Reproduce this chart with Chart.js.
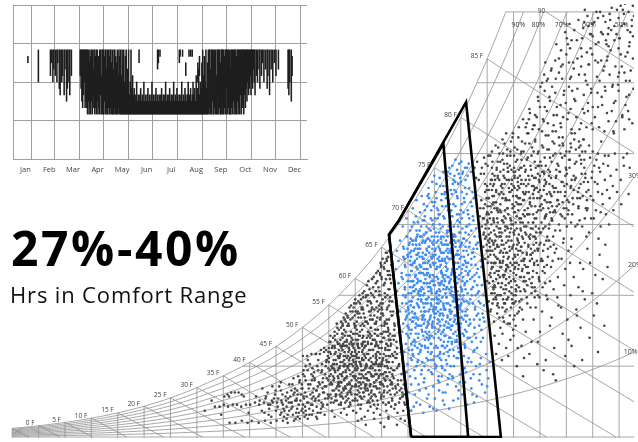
<!DOCTYPE html>
<html>
<head>
<meta charset="utf-8">
<script src="https://cdn.jsdelivr.net/npm/chart.js@4.4.1/dist/chart.umd.min.js"></script>
<style>
html,body{margin:0;padding:0;background:#fff;}
body{width:638px;height:442px;position:relative;overflow:hidden;font-family:"Open Sans",sans-serif;}
#psy{position:absolute;left:0;top:0;}
#year{position:absolute;left:0;top:0;}
.big{position:absolute;left:11px;top:224px;font-size:48px;font-weight:700;line-height:48px;letter-spacing:2.6px;color:#000;white-space:nowrap;}
.sub{position:absolute;left:10px;top:283px;font-size:22px;line-height:22px;letter-spacing:0.85px;color:#111;white-space:nowrap;}
</style>
</head>
<body>
<canvas id="psy" width="638" height="442"></canvas>
<canvas id="year" width="320" height="180"></canvas>
<div class="big">27%-40%</div>
<div class="sub">Hrs in Comfort Range</div>
<script>
// ---------- psychrometric grid values ----------
const dryBulbLines = [-5,0,5,10,15,20,25,30,35,40,45,50,55,60,65,70,75,80,85,90,95,100,105,110];
const humidityLines = [0,35,70,105,140,175];          // grains of moisture per lb dry air
const wetBulbLines = [-5,0,5,10,15,20,25,30,35,40,45,50,55,60,65,70,75,80,85,90];
const wetBulbLabels = [0,5,10,15,20,25,30,35,40,45,50,55,60,65,70,75,80,85];
const rhLines = [10,20,30,40,50,60,70,80,90];
const rhTopLabels = [90,80,70,60,50];
const rhSideLabels = [30,20,10];
const TOP_GRAINS = 210;

// ---------- comfort zones (dry bulb F, grains) ----------
const comfortZoneWide = [[70.6,0],[66.4,100],[68.3,107],[81.0,165.4],[87.6,0],[70.6,0]];
const comfortZoneNarrow = [[70.6,0],[66.4,100],[68.3,107],[76.7,145],[81.4,0],[70.6,0]];

// ---------- hourly conditions outside the comfort zone (dry bulb F, grains) ----------
const outsideHours = [
[33.4,15],[34.3,15],[35.1,16],[35.9,15],[36.8,16],[37.6,16],[38.4,15],[39.3,16],[40.1,16],[41.0,17],[41.8,16],[42.7,17],[43.5,16],[44.4,17],[45.2,17],[46.1,17],[46.9,18],[47.8,17],[48.6,18],
[36.2,7],[37.3,7],[38.5,8],[39.6,7],[40.4,8],[41.7,7],[42.9,8],[44.0,7],[45.1,8],[46.3,8],[47.2,7],[48.4,8],[49.5,9],
[35.2,20],[35.8,21],[36.5,22],[37.2,22],[37.9,22],[38.5,21],[38.9,20],[36.1,20],
[31.5,13],[32.8,18],[34.6,11],[39.8,12],[41.2,20],[43.6,11],[44.8,21],[46.6,13],[47.9,23],[45.6,25],[49.3,12],[50.4,10],[42.4,24],
[48.3,29],[49.2,30],[50.1,31],[51.0,33],[51.9,34],[52.8,35],[53.7,36],[54.6,38],
[50.1,40],[50.9,40],[51.7,41],[52.5,41],[53.3,41],[54.1,42],
[55.0,44],[56.1,44],[57.2,45],[58.3,45],[59.4,46],[60.5,46],
[57.3,54],[57.6,56],[58.0,58],[58.5,60],[59.1,62],[58.9,64],[59.8,66],[60.6,67],[61.5,69],
[44.1,10],[45.8,11],[47.0,9],[48.2,11],[49.1,10],[50.2,12],[51.0,9],[51.8,11],[52.6,10],[53.4,12],[50.7,11],[48.8,12],
[42.3,13],[43.7,14],[45.0,13],[46.4,14],[47.5,13],[48.1,15],[49.0,14],[49.8,13],[50.5,15],[51.3,14],[52.0,13],[52.7,15],[53.5,14],[51.6,16],[50.1,16],[47.0,15],
[41.9,18],[43.0,19],[44.2,18],[45.4,19],[46.0,18],[47.3,19],[48.0,17],[48.9,19],[49.6,18],[50.3,19],[51.1,17],[51.8,19],[52.4,18],[53.0,20],[53.6,17],[52.1,20],[50.8,20],
[43.4,22],[44.9,23],[46.2,21],[47.1,22],[48.3,21],[49.0,23],[49.7,21],[50.5,22],[51.2,24],[51.9,22],[52.6,23],[53.2,21],[53.8,24],[50.0,24],[48.6,24],[52.9,25],
[45.9,27],[47.5,26],[49.4,27],[50.6,28],[51.5,26],[52.3,28],[53.1,27],[53.9,29],[52.0,30],[49.9,26],
[50.2,33],[51.4,36],[52.2,32],[53.0,38],[53.7,33],[52.6,41],[51.0,38],[53.5,43],[50.6,35],
[54.2,11],[55.6,13],[56.1,10],[57.3,12],[57.9,14],[58.4,11],[59.6,13],[60.2,12],[61.0,14],[61.8,10],[62.4,13],[63.5,12],[64.1,14],[64.7,11],[65.9,13],[66.3,10],[67.4,14],[68.0,12],[69.1,13],[58.8,15],[62.9,15],[66.8,15],
[53.9,16],[54.8,19],[55.4,17],[56.5,18],[56.9,16],[57.7,19],[58.2,20],[59.0,17],[59.5,18],[60.6,16],[61.2,19],[61.7,20],[62.7,17],[63.3,18],[64.3,16],[64.9,19],[65.4,20],[66.4,17],[67.0,18],[67.6,16],[68.5,19],[69.3,17],[55.0,20],[57.2,20],[60.0,19],[63.1,20],[65.8,16],[68.9,20],
[54.1,22],[54.5,25],[55.3,21],[56.0,23],[56.6,25],[57.1,21],[57.7,24],[58.6,22],[59.0,23],[59.9,25],[60.4,21],[61.1,24],[61.5,22],[62.4,23],[62.8,25],[63.7,21],[64.2,24],[64.6,22],[65.5,23],[66.1,25],[66.7,21],[67.1,24],[67.9,22],[68.4,23],[69.2,21],[56.3,21],[58.1,25],[60.8,22],[63.9,25],[65.0,21],[67.6,25],[61.9,25],
[53.8,27],[54.6,29],[55.2,26],[55.9,28],[56.7,30],[57.0,27],[58.0,29],[58.5,26],[59.3,28],[59.8,30],[60.6,27],[61.1,29],[61.9,26],[62.3,28],[63.2,30],[63.6,27],[64.4,29],[64.8,26],[65.7,28],[66.1,30],[66.9,27],[67.3,29],[68.1,26],[68.7,28],[56.8,26],[58.4,30],[60.1,26],[62.9,26],[64.5,30],[67.0,26],[55.1,30],[61.5,30],
[54.3,31],[54.9,34],[55.5,35],[56.2,32],[57.0,34],[57.4,31],[58.2,33],[58.7,35],[59.5,32],[60.0,34],[60.8,31],[61.2,33],[62.0,35],[62.4,32],[63.3,34],[63.8,31],[64.5,33],[64.9,35],[65.8,32],[66.2,34],[67.0,31],[67.4,33],[68.2,35],[68.8,31],[55.4,31],[57.8,35],[60.3,35],[63.0,31],[65.3,31],[67.9,34],[59.1,31],[62.2,35],
[54.5,37],[55.0,39],[55.8,36],[56.3,38],[57.1,40],[57.6,37],[58.4,39],[58.9,36],[59.6,38],[60.2,40],[60.9,37],[61.3,39],[62.1,36],[62.6,38],[63.4,40],[63.9,37],[64.6,39],[65.1,36],[65.9,38],[66.3,40],[67.1,37],[67.6,39],[68.3,36],[56.0,36],[58.6,40],[61.0,36],[63.6,36],[66.0,37],[54.8,40],[67.2,40],
[54.9,42],[55.6,44],[56.1,41],[56.9,43],[57.5,45],[58.0,42],[58.8,44],[59.2,41],[60.0,43],[60.5,45],[61.3,42],[61.7,44],[62.5,41],[62.9,43],[63.8,45],[64.2,42],[65.0,44],[65.4,41],[66.2,43],[66.7,45],[67.5,42],[67.9,44],[57.2,41],[59.5,45],[62.0,45],[64.7,41],[67.0,41],[55.7,45],[60.3,41],[65.7,44],
[55.3,47],[55.8,49],[56.7,46],[57.2,48],[58.0,50],[58.4,47],[59.3,49],[59.7,46],[60.5,48],[60.9,50],[61.8,47],[62.2,49],[63.0,46],[63.4,48],[64.2,50],[64.7,47],[65.5,49],[65.9,46],[66.7,48],[67.1,50],[67.8,47],[56.1,50],[58.9,46],[61.4,46],[64.0,46],[66.3,50],[60.7,50],[63.1,50],
[56.1,52],[56.6,54],[57.5,51],[57.9,53],[58.8,55],[59.2,52],[60.0,54],[60.4,51],[61.3,53],[61.7,55],[62.5,52],[62.9,54],[63.7,51],[64.2,53],[65.0,55],[65.4,52],[66.2,54],[66.6,51],[67.4,53],[57.6,55],[60.1,55],[62.8,51],[65.1,51],[67.5,55],
[57.3,57],[57.8,59],[58.7,56],[59.1,58],[59.9,60],[60.3,57],[61.1,59],[61.6,61],[62.4,56],[62.8,58],[63.6,60],[64.0,57],[64.8,59],[65.2,61],[66.0,56],[66.4,58],[67.0,60],[60.1,62],[62.6,62],[64.3,62],[66.7,62],[58.2,61],[61.4,56],[63.9,56],
[59.7,64],[60.2,66],[61.1,68],[61.5,63],[62.3,65],[62.8,67],[63.6,69],[64.0,64],[64.8,66],[65.2,68],[66.0,63],[66.4,65],[67.0,67],[63.1,63],[64.5,70],[66.1,70],[60.8,70],[62.4,70],[65.0,64],[66.6,69],
[61.7,72],[62.2,75],[63.0,71],[63.4,74],[64.2,77],[64.6,72],[65.4,75],[65.8,78],[66.5,73],[66.8,76],[63.2,78],[64.7,80],[65.6,71],[66.2,80],[62.1,70],[63.9,72],[65.0,79],[66.6,78],
[64.3,82],[64.9,85],[65.5,83],[66.0,87],[66.4,82],[65.2,88],[65.8,91],[66.2,89],[64.7,81],[65.6,86],[66.5,92],[64.9,84],
[60.5,8],[62.0,6],[63.6,9],[64.8,7],[66.3,9],[67.9,6],[69.4,8],[65.5,5],[61.2,9],[68.6,9],
[54.3,19],[55.7,23],[54.9,28],[55.2,33],[54.6,38],[55.9,17],[54.1,44],[55.4,41],[54.8,21],[55.1,47],[55.8,30],[54.4,35],[55.6,26],[54.7,16],[55.3,50],[54.2,25],[55.0,37],[55.5,19],[54.5,43],[55.9,34],
[56.2,18],[57.4,22],[56.8,27],[57.1,31],[56.5,36],[57.8,40],[56.1,45],[57.6,49],[56.9,53],[57.3,16],[56.4,24],[57.9,28],[56.7,33],[57.2,37],[56.3,42],[57.7,46],[56.6,51],[57.5,20],[56.0,29],[57.0,25],[56.8,39],[57.4,44],[56.2,48],[57.9,35],[56.5,56],[57.6,55],
[58.1,17],[59.3,21],[58.6,26],[59.7,30],[58.4,35],[59.0,39],[58.9,43],[59.5,48],[58.2,52],[59.8,56],[58.7,19],[59.2,24],[58.3,29],[59.9,33],[58.8,38],[59.4,42],[58.0,47],[59.6,51],[58.5,55],[59.1,16],[58.9,27],[59.3,36],[58.4,45],[59.8,40],[58.6,59],[59.5,62],[58.2,24],[59.9,18],
[60.4,18],[61.6,22],[60.9,27],[61.2,31],[60.1,36],[61.8,40],[60.6,44],[61.4,49],[60.3,53],[61.9,57],[60.8,61],[61.1,16],[60.2,25],[61.7,29],[60.5,34],[61.3,38],[60.7,42],[61.5,47],[60.0,51],[61.0,55],[60.9,20],[61.6,33],[60.4,46],[61.2,64],[60.6,59],[61.8,24],[60.1,30],[61.4,43],
[62.3,17],[63.5,21],[62.8,26],[63.1,30],[62.1,35],[63.9,39],[62.6,43],[63.3,48],[62.4,52],[63.7,56],[62.9,60],[63.2,64],[62.0,23],[63.6,27],[62.7,32],[63.4,36],[62.2,41],[63.8,45],[62.5,50],[63.0,54],[62.9,19],[63.3,58],[62.4,67],[63.8,33],[62.6,38],[63.1,46],[62.0,29],[63.6,16],
[64.2,18],[65.4,22],[64.7,27],[65.1,31],[64.0,36],[65.8,40],[64.5,44],[65.3,49],[64.3,53],[65.6,57],[64.9,61],[65.2,66],[64.1,24],[65.7,28],[64.6,33],[65.0,37],[64.4,42],[65.9,46],[64.8,51],[65.5,55],[64.2,59],[65.3,17],[64.9,20],[65.6,35],[64.0,47],[65.1,63],[64.7,70],[65.8,52],
[66.3,17],[67.5,21],[66.7,26],[67.1,30],[66.0,35],[67.8,39],[66.5,43],[67.3,48],[66.2,52],[67.4,56],[66.9,60],[66.1,64],[67.0,19],[67.7,24],[66.6,28],[67.2,33],[66.4,37],[67.9,41],[66.8,46],[67.5,50],[66.0,58],[67.2,62],[66.5,23],[67.6,16],
[68.3,17],[69.0,20],[68.7,24],[69.4,16],[68.1,28],[68.9,22],[68.5,19],[69.2,26],
[56.4,21],[57.3,27],[58.2,32],[59.1,22],[60.2,28],[61.1,35],[62.3,24],[63.2,30],[64.1,38],[65.2,26],[57.9,38],[58.8,44],[59.9,29],[60.8,37],[61.9,45],[62.8,34],[63.9,41],[64.8,31],[65.7,43],[56.9,34],[57.6,43],[58.5,21],[59.6,35],[60.5,23],[61.5,27],[62.4,47],[63.5,25],[64.4,35],[65.4,29],[66.2,45],[57.0,46],[58.0,36],[59.0,50],[60.0,42],[61.0,20],[62.0,39],[63.0,22],[64.0,28],[65.0,47],[66.5,32],[57.5,30],[58.4,48],[59.4,25],[60.3,39],[61.3,45],[62.2,29],[63.1,37],[64.3,45],[65.3,39],[56.7,40],[58.6,34],[59.7,44],[60.7,25],[61.6,41],[62.6,21],[63.7,48],[64.6,24],[65.6,32],[57.8,23],[60.1,48],
[55.4,27],[58.7,42],[61.3,19],[63.8,53],[57.1,35],[60.4,61],[65.2,38],[62.6,28],[59.2,47],[56.3,20],[64.5,65],[61.9,34],[58.0,24],[66.4,48],[60.8,44],[63.1,23],[57.6,51],[55.9,38],[62.2,57],[59.6,30],[64.9,27],[61.5,50],[58.4,18],[66.8,34],[63.4,43],[56.8,29],[60.1,37],[65.6,56],[62.9,39],[57.9,45],[59.9,55],[64.1,31],[61.1,26],[55.2,42],[63.6,63],[58.9,33],[66.1,22],[60.6,29],[62.4,46],[57.3,17],[65.0,44],[59.4,40],[61.8,59],[56.1,33],[64.3,50],[60.0,21],[62.0,31],[58.2,57],[66.6,40],[63.0,35],[57.0,39],[65.4,25],[59.0,26],[61.6,38],[64.7,58],[56.6,47],[62.8,49],[60.3,33],[58.6,50],[63.9,20],[55.6,34],[65.9,30],[61.2,46],[59.7,37],[62.5,18],[57.4,27],[64.0,40],[60.9,52],[58.1,40],[66.3,53],[63.2,58],[56.9,23],[61.4,64],[59.5,59],[64.6,36],[62.1,26],[57.7,32],[65.3,60],[60.7,39],[63.5,30],
[59.2,65],[60.0,68],[60.9,66],[61.4,71],[62.0,69],[62.7,73],[63.3,70],[63.9,76],[64.4,74],[65.0,78],[65.6,76],[66.1,82],[66.6,80],[64.8,86],[65.4,84],[66.0,91],[63.5,79],[62.5,77],[61.2,63],[62.9,62],[64.1,67],[65.7,69],[66.3,73],[66.8,85],[60.5,62],[63.0,66],[64.6,63],[65.9,88],[64.0,81],[66.5,67],
[42.8,12],[43.9,16],[44.6,19],[45.3,15],[46.0,12],[46.8,20],[47.4,17],[47.9,14],[48.5,22],[48.9,18],[49.3,16],[49.8,24],[50.2,20],[50.6,13],[51.1,26],[51.5,21],[51.9,16],[52.3,29],[52.7,23],[53.1,18],[53.6,32],[53.9,22],[50.9,17],[49.5,28],[48.1,26],[51.7,31],[52.9,12],[53.3,26],[52.1,24],[50.4,30],[47.2,11],[45.9,23],[44.3,25],[43.1,20],[46.5,10],[48.7,9],[51.3,11],[53.8,15],[52.5,19],[50.0,14],[49.1,21],[47.7,20],[46.3,16],[53.0,33],[51.8,28],[52.8,9],
[84.0,104],[84.6,98],[85.1,106],[85.7,101],[86.2,96],[86.8,104],[87.3,99],[87.9,107],[88.4,102],[89.0,97],[89.6,105],[90.1,100],[90.7,95],[91.3,103],[91.8,98],[85.4,96],[86.5,100],[88.1,95],[89.3,101],[90.4,106],[84.3,100],[87.0,106],
[84.6,88],[85.2,92],[85.8,86],[86.3,90],[86.9,94],[87.4,87],[88.0,91],[88.6,85],[89.1,89],[89.7,93],[90.2,86],[90.8,90],[91.4,94],[91.9,87],[92.5,91],[85.5,94],[87.7,95],[89.4,86],[90.5,93],[92.1,85],
[85.0,77],[85.6,81],[86.1,84],[86.7,78],[87.2,82],[87.8,76],[88.3,80],[88.9,84],[89.5,77],[90.0,81],[90.6,75],[91.2,79],[91.7,83],[92.3,77],[86.4,75],[88.6,83],[90.3,84],[92.8,81],
[85.3,67],[85.9,71],[86.5,74],[87.0,66],[87.6,70],[88.1,73],[88.7,68],[89.2,72],[89.8,66],[90.4,70],[91.0,74],[91.5,68],[86.2,68],[88.4,66],
[85.6,62],[86.3,57],[86.9,61],[87.5,54],[88.0,59],[88.7,63],[89.3,56],[86.4,50],[87.2,46],[87.9,51],[88.6,44],[89.4,48],[86.7,41],[87.8,38],[90.2,60],[89.9,53],
[84.4,101],[84.9,95],[85.2,89],[85.8,83],[86.1,77],[86.4,71],[86.9,65],[87.3,59],[84.7,105],[85.5,98],[86.0,92],[86.6,86],[87.1,80],[87.6,74],[88.0,68],[88.4,62],[88.9,56],[85.3,103],[85.9,97],[86.5,93],[87.0,88],[87.5,84],[88.1,79],[88.6,73],[89.0,69],[89.5,64],[90.0,58],[86.3,106],[86.8,99],[87.4,91],[88.0,87],[88.5,82],[89.1,76],[89.6,71],[90.1,66],[90.7,61],[87.2,103],[87.8,97],[88.3,93],[88.9,88],[89.4,82],[90.0,78],[90.5,72],[91.1,67],[91.6,63],[88.7,104],[89.2,99],[89.8,94],[90.3,89],[90.9,83],[91.4,79],[92.0,73],[92.5,69],[90.2,102],[90.8,97],[91.3,92],[91.9,88],[92.4,84],[93.0,78],[93.5,74],[91.7,106],[92.2,101],[92.8,95],[93.3,90],[93.9,86],[94.4,81],[94.9,77],[93.6,103],[94.2,98],[94.7,93],[95.3,88],[85.1,86],[85.7,79],[86.2,73],[86.7,68],[87.9,64],[88.2,57],[85.6,90],[86.9,95],[87.7,101],[89.9,105],[91.0,100],[88.8,91],[90.6,86],[92.6,81],[94.0,92],[95.0,101],[89.3,60],[90.4,55],[91.8,58],[93.2,64],[94.6,70],[86.0,66],[87.3,70],[88.6,78],[90.2,83],[91.5,87],[92.9,99],
[85.7,63],[88.3,71],[86.9,88],[91.2,64],[89.6,97],[93.7,82],[87.4,112],[90.8,126],[85.2,118],[92.5,137],[95.1,96],[96.8,121],[94.3,108],[88.9,133],[86.3,102],[91.7,91],[97.4,87],[93.1,118],[89.2,79],[86.6,69],[95.7,131],[92.0,104],[87.8,125],[90.4,73],[94.9,69],[84.8,99],[88.0,140],[96.2,110],[91.4,115],[89.9,88],[85.9,84],[93.9,128],[87.1,76],[92.8,94],[90.1,139],[86.0,130],[95.5,82],[97.9,102],[84.4,108],[89.4,121],[91.9,77],[94.6,134],[88.6,96],[86.7,122],[93.4,71],[90.6,103],[87.6,92],[95.9,117],[92.3,127],[85.4,76],[97.1,128],[89.0,110],[91.0,85],[94.0,99],[87.0,136],[96.5,93],[88.2,66],[93.0,110],[90.0,95],[85.6,92],[92.7,84],[94.7,121],[86.4,113],[98.2,114],[91.5,133],[89.7,68],[87.3,101],[95.3,106],[93.6,91],[90.9,118],[88.8,85],[86.2,95],[96.0,76],[92.2,72],[94.4,87],[87.9,118],[90.3,131],[85.3,110],[97.6,95],[89.1,127],[91.6,99],[93.3,103],[95.8,124],[88.4,104],[86.8,82],[92.9,121],[90.5,80],[94.1,114],[87.5,131],[96.7,103],[84.9,122],[89.8,113],[91.3,72],[93.8,95],[88.1,89],[86.1,74],[95.0,129],[92.6,110],[90.2,123],[87.7,84],[94.8,78],[89.3,92],[91.1,108],[96.3,85],[85.8,105],[93.2,134],[88.7,117],[86.5,127],[92.1,88],[90.7,98],[94.2,104],[97.2,119],[89.5,103],[87.2,94],[91.8,121],[95.6,113],[85.1,114],[93.5,124],[90.0,70],[88.5,75],[86.9,108],[92.4,100],[94.5,93],[96.9,111],[91.2,129],[89.0,84],[87.4,86],[93.1,87],[95.2,101],[90.3,111],[88.1,129],[86.3,119],[92.0,117],[94.9,126],[98.0,123],[91.5,94],[89.6,132],[87.8,107],[96.1,134],[93.7,106],
[84.9,92],[86.4,81],[85.5,108],[87.2,64],[88.7,99],[90.3,77],[86.7,116],[89.3,134],[91.8,110],[93.5,88],[95.3,119],[85.2,97],[87.9,86],[90.9,92],[92.6,75],[86.1,124],[88.4,112],[94.2,133],[96.4,99],[89.6,74],[91.2,118],[85.8,71],[87.5,103],[93.0,127],[95.9,108],[88.0,80],[90.6,109],[92.1,96],[86.6,89],[84.6,115],[89.1,123],[94.6,85],[87.0,128],[91.6,82],[96.8,116],[85.4,80],[88.9,103],[90.1,114],[93.8,118],[86.9,70],[92.8,106],[95.6,92],[88.2,135],[84.3,94],[90.8,128],[87.7,121],[91.4,102],[94.0,74],[86.2,107],[89.8,85],[92.3,132],[97.0,94],[85.9,133],[88.6,91],[93.2,100],[90.4,67],[87.1,111],[95.1,136],[91.9,125],[86.5,97],[89.4,108],[94.4,111],[84.7,103],[92.5,90],[88.3,125],[90.0,101],[96.2,126],[87.4,79],[93.6,79],[85.6,125],[91.0,96],[89.9,119],[86.0,115],[94.8,103],[88.8,68],[92.7,113],[87.6,99],[90.7,122],[95.5,87],[85.0,111],[91.5,137],[89.2,94],[93.9,122],[86.8,132],[97.5,111],[88.5,118],[90.2,90],[92.0,79],[94.3,96],[87.3,120],[85.3,100],[91.3,106],[96.0,104],[89.7,127],[93.3,93],[86.3,86],[88.1,106],[90.5,116],[95.0,114],[92.2,120],
[98.4,121],[99.7,108],[100.6,133],[101.3,115],[102.4,146],[103.3,126],[98.9,140],[100.1,125],[101.7,104],[102.8,137],[99.3,116],[100.9,143],[103.7,113],[98.1,132],[101.0,127],[102.1,118],[99.8,129],[103.0,141],[100.4,112],[98.6,105],
[92.4,104],[93.1,98],[93.7,106],[94.3,101],[94.9,95],[95.6,103],[96.2,97],[96.8,105],[97.5,99],[98.1,93],[98.8,102],[99.4,96],[100.1,104],[93.2,90],[93.9,85],[94.6,92],[95.2,87],[95.9,81],[96.5,89],[97.1,84],[97.8,91],[98.4,79],[99.1,88],[99.8,83],[93.4,76],[94.1,72],[94.8,79],[95.5,74],[96.2,70],[96.9,77],[97.6,73],[98.3,69],[100.4,92],[101.0,98],[92.9,81],[94.0,69],[95.8,95],[97.3,107],[99.6,75],[100.7,86],
[89.0,40],[90.6,35],[91.5,45],[92.3,52],[93.0,41],[93.8,58],[94.6,47],[95.4,62],[96.1,38],[96.9,55],[97.7,44],[98.5,65],[99.3,51],[100.2,58],[101.0,45],[101.9,63],[102.7,54],[103.5,68],[104.4,49],[105.2,60],[106.0,42],[91.0,62],[92.6,66],[94.2,64],[99.8,40],[103.0,38],[104.9,71],[107.2,55],[91.8,30],[95.7,33],[98.0,28],[100.8,70],[102.3,74],[96.4,68],[90.0,50],[101.5,35],
[96.7,97],[98.5,88],[100.9,94],[102.6,86],[104.0,93],[101.4,79],[103.1,72],[99.0,64],[97.2,59],[95.0,52],[93.4,47],[92.0,39],[90.8,44],[94.5,36],[97.5,31],[100.4,48],[102.0,60],[105.8,66],[106.9,78],[107.8,84],[95.8,84],[99.5,98],[103.8,99],[106.1,98],[93.7,99],
[104.5,86],[106.3,90],[105.5,80],[107.4,95],[103.2,83],
[83.6,109],[84.3,113],[84.9,110],[85.6,114],[86.2,108],[86.9,112],[87.5,115],[88.2,109],[88.8,113],[89.5,107],[90.1,111],[90.8,115],[91.4,108],[92.1,112],[92.7,110],[93.4,114],[94.0,108],[94.7,112],[95.3,115],[96.0,109],[96.6,113],[97.3,107],[97.9,111],[98.6,115],[99.2,109],[100.0,113],[101.1,110],[102.3,114],[103.5,108],[85.0,107],
[83.9,117],[84.6,121],[85.3,118],[85.9,122],[86.6,116],[87.2,120],[87.9,123],[88.5,117],[89.2,121],[89.8,115],[90.5,119],[91.1,123],[91.8,117],[92.4,121],[93.1,116],[93.7,120],[94.4,123],[95.0,118],[95.7,122],[96.3,116],[97.0,120],[97.6,123],[98.3,117],[98.9,121],[99.7,119],[100.5,116],[101.4,122],[102.6,118],[103.8,121],[86.0,119],
[85.0,124],[85.7,127],[86.3,125],[87.0,129],[87.6,124],[88.3,128],[88.9,131],[89.6,125],[90.2,129],[90.9,124],[91.5,127],[92.2,131],[92.8,125],[93.5,129],[94.1,123],[94.8,127],[95.4,131],[96.1,125],[96.7,129],[97.4,124],[98.0,128],[98.7,131],[99.3,126],[100.1,130],[100.9,124],[101.8,128],[102.7,125],[103.6,130],[90.0,131],[94.6,130],
[86.8,133],[87.5,136],[88.1,132],[88.8,135],[89.4,139],[90.1,133],[90.7,137],[91.4,140],[92.0,134],[92.7,138],[93.3,132],[94.0,136],[94.6,140],[95.3,134],[95.9,138],[96.6,132],[97.2,136],[97.9,140],[98.5,134],[99.2,138],[99.9,133],[100.7,137],[101.6,135],[102.5,139],[103.4,133],[91.0,132],
[88.8,142],[89.5,146],[90.2,143],[90.9,148],[91.5,141],[92.2,145],[92.8,150],[93.5,143],[94.1,147],[94.8,152],[95.4,144],[96.1,149],[96.7,142],[97.4,146],[98.0,151],[98.7,144],[99.3,148],[100.0,141],[100.8,145],[101.6,150],[102.4,143],[103.3,147],[89.9,150],[93.8,141],
[84.2,108],[86.7,121],[85.1,134],[88.9,113],[87.3,127],[90.6,119],[89.4,141],[92.1,109],[91.3,133],[93.8,124],[95.2,112],[94.1,146],[96.9,131],[98.4,117],[97.2,108],[99.7,139],[100.8,123],[102.3,113],[101.5,147],[103.6,128],[85.8,111],[84.6,125],[87.9,137],[86.2,116],[89.7,122],[88.5,108],[91.9,141],[90.2,128],[93.1,115],[92.6,150],[94.8,134],[96.3,120],[95.6,143],[97.8,112],[99.1,126],[98.6,148],[100.3,110],[101.9,136],[103.1,119],[102.7,144],[84.9,118],[86.4,129],[85.6,139],[88.1,120],[87.6,111],[89.0,131],[90.9,112],[92.4,124],[91.6,146],[94.5,118],[93.4,139],[95.9,127],[97.5,139],[96.6,149],[98.9,110],[100.0,132],[101.2,118],[99.4,144],[102.9,130],[103.9,112],[83.7,113],[85.3,122],[86.9,113],[88.7,127],[90.4,136],[89.2,117],[92.8,129],[91.1,115],[94.2,128],[95.4,151],[97.0,116],[98.1,129],[96.1,109],[99.8,121],[101.6,127],[100.6,141],[102.2,121],[103.4,137],[84.4,130],[86.0,136],[87.1,143],[88.3,145],[89.8,148],[90.7,142],[92.0,120],[93.7,110],[95.0,122],[96.8,125],[98.3,135],[99.5,113],[101.0,150],[102.5,107],[103.2,147],[97.7,145],[94.7,141],[91.4,125],[85.9,127],[88.8,139],[90.0,124],[93.0,145],
[104.2,122],[104.8,128],[105.3,134],[105.9,125],[106.4,131],[104.5,138],[105.1,117],[106.0,140],[106.8,120],[107.3,127],[104.0,113],[104.7,108],[105.6,112],[106.5,104],[107.5,110],[108.2,118],[108.8,124],[109.5,132],[110.4,115],[104.3,101],[103.0,104],[102.1,105],[100.9,106],[107.0,135],[108.0,139],
[104.6,119],[105.4,126],[106.2,133],[105.0,141],[106.9,115],[107.7,122],[104.9,131],[106.0,121],[107.3,139],[108.4,129],[104.3,144],[105.7,137],[106.6,146],[107.9,134],[108.9,112],[109.6,121],[110.3,127],[108.1,105],[109.2,140],[110.9,134],[111.8,120],[105.2,108],[106.5,111],[104.1,126],[103.6,141],[102.8,135],[101.4,129],[100.5,137],[99.6,124],[98.8,131],[97.7,121],[96.9,138],[95.8,130],[97.3,114],[100.2,117],[102.4,123],[103.9,117],[101.8,142],[99.3,145],[96.4,142],
[110.8,138],[112.0,133],[111.5,140],
[82.6,133],[83.1,136],[83.8,130],[84.4,138],[83.4,127],[84.0,133],[82.9,128],[85.2,139],[85.9,141],[86.6,144],[87.3,140],[87.9,147],[84.7,135],[88.6,150],
[91.0,153],[91.8,157],[92.5,155],[93.1,160],[93.8,154],[94.4,158],[95.0,163],[95.7,156],[96.3,161],[96.9,166],[97.6,154],[98.2,159],[98.9,164],[99.5,169],[100.2,157],[100.8,162],[101.5,167],[102.1,172],[102.8,155],[103.4,160],[104.1,165],[104.7,170],[105.4,158],[106.0,163],[106.7,168],[107.3,173],[108.0,156],[108.6,161],[109.3,166],[109.9,171],[110.6,159],[111.2,164],[111.9,169],[112.5,155],[94.6,168],[95.9,171],[97.3,173],[99.0,153],[101.0,152],[103.8,153],[105.0,152],[107.2,151],[109.0,150],[111.0,152],[100.5,173],
[92.3,153],[94.1,159],[93.0,162],[95.6,157],[96.8,168],[95.1,173],[97.4,151],[98.2,163],[99.6,171],[98.9,155],[100.4,160],[101.7,166],[100.9,178],[102.5,152],[103.3,169],[104.1,161],[103.7,176],[104.8,155],[97.1,181],[98.6,187],[99.2,177],[100.7,192],[101.3,185],[102.0,196],[102.8,183],[103.9,190],[104.5,199],[96.3,176],[97.9,170],[99.9,165],[101.9,158],[92.9,157],[94.7,166],[93.6,152],[95.9,163],[97.6,159],[99.0,183],[100.1,197],[101.1,171],[102.4,179],[103.1,162],[104.3,184],[98.1,194],[96.0,185],[100.5,185],[102.9,188],[104.7,172],[94.0,154],[96.5,155],[99.4,158],
[95.4,175],[95.8,179],[96.5,177],[97.2,182],[97.9,186],[98.6,180],[99.3,184],[100.0,189],[100.7,177],[101.4,182],[102.1,187],[102.8,192],[103.5,179],[104.2,184],[104.9,189],[105.6,194],[106.3,176],[107.0,181],[107.7,186],[108.4,191],[109.1,196],[109.8,178],[110.5,183],[111.2,188],[111.9,193],[112.6,198],[99.0,191],[101.0,196],[103.0,197],[105.0,198],[107.5,196],[110.0,197],[98.0,177],[104.0,174],[108.8,174],[112.0,176],[100.3,194],[106.0,185],[111.0,180],
[105.3,205],[106.1,195],[107.0,208],[107.8,188],[108.5,201],[109.3,183],[110.1,197],[110.9,209],[111.6,190],[112.4,203],[105.8,178],[106.6,186],[107.4,171],[108.2,179],[109.0,165],[109.8,174],[110.6,158],[111.4,168],[112.2,181],[105.0,163],[106.2,153],[107.7,160],[108.9,151],[110.3,189],[111.9,157],[112.7,172],[106.9,199],[108.0,193],[109.6,211],[111.1,214],[112.0,195],[104.6,192],[105.9,170],[107.2,183],[108.7,173],[110.0,180],[111.3,176],[112.6,187],[106.4,210],[108.3,206],[110.5,203],[112.8,208],[104.2,203],[103.4,205],[106.8,164],[109.4,156],[111.7,161],[105.5,186],[107.6,194],[109.9,192],
[99.8,200],[100.6,204],[101.5,201],[102.3,206],[103.2,202],[104.0,208],[104.9,204],[105.7,210],[106.6,200],[107.4,205],[108.2,209],[109.1,203],[109.9,207],[110.7,211],[111.6,201],[112.4,206],[108.6,212],[110.3,213],[111.8,210],[112.6,213],[106.0,207],[107.9,199],[109.5,199],[111.0,204],[103.5,211],[108.0,202],[112.1,200],[104.7,199]
];

// ---------- hourly conditions inside the comfort zone (dry bulb F, grains) ----------
const comfortHours = [
[77.5,131],[78.4,134],[79.3,132],[80.1,136],[80.8,133],[81.5,135],[79.0,137],[81.9,131],[78.0,130],[80.4,131],
[73.9,123],[74.6,126],[75.3,121],[76.0,128],[76.7,124],[77.4,127],[78.1,122],[78.8,129],[79.5,125],[80.2,121],[80.9,127],[81.6,123],[75.0,129],[77.0,121],[79.9,128],[81.3,129],[76.4,120],[78.5,125],
[70.9,113],[71.6,117],[72.3,111],[73.0,115],[73.7,119],[74.4,112],[75.1,116],[75.8,110],[76.5,114],[77.2,118],[77.9,111],[78.6,115],[79.3,119],[80.0,112],[80.7,116],[81.4,110],[82.1,114],[82.5,118],[74.0,118],[76.9,120],[79.7,110],[81.1,120],[72.6,119],[75.5,113],
[69.0,104],[69.7,108],[70.4,102],[71.1,106],[71.8,100],[72.5,104],[73.2,109],[73.9,103],[74.6,107],[75.3,101],[76.0,105],[76.7,109],[77.4,102],[78.1,106],[78.8,100],[79.5,104],[80.2,108],[80.9,101],[81.6,105],[82.3,109],[82.9,103],[71.5,109],[75.6,108],[78.4,109],[79.9,101],[73.4,101],
[67.9,92],[68.5,97],[69.1,94],[69.7,99],[70.3,91],[70.9,95],[71.5,98],[72.1,93],[72.7,96],[73.3,90],[73.9,94],[74.5,99],[75.1,92],[75.7,97],[76.3,91],[76.9,95],[77.5,99],[78.1,93],[78.7,97],[79.3,90],[79.9,94],[80.5,98],[81.1,92],[81.7,96],[82.3,91],[82.9,95],[83.5,99],[69.9,93],[72.4,99],[74.8,95],[77.2,92],[80.2,96],
[67.7,83],[68.2,87],[68.8,81],[69.4,85],[70.0,89],[70.6,82],[71.2,86],[71.8,90],[72.4,84],[73.0,88],[73.6,81],[74.2,85],[74.8,89],[75.4,83],[76.0,87],[76.6,80],[77.2,84],[77.8,88],[78.4,82],[79.0,86],[79.6,90],[80.2,83],[80.8,87],[81.4,81],[82.0,85],[82.6,89],[83.2,83],[83.8,87],[69.1,89],[71.5,80],[73.9,87],[76.3,82],[78.7,89],[81.1,84],
[67.9,72],[68.2,76],[68.8,79],[69.4,73],[70.0,77],[70.6,71],[71.2,75],[71.8,78],[72.4,72],[73.0,76],[73.6,80],[74.2,74],[74.8,77],[75.4,71],[76.0,75],[76.6,79],[77.2,73],[77.8,76],[78.4,70],[79.0,74],[79.6,78],[80.2,72],[80.8,76],[81.4,80],[82.0,73],[82.6,77],[83.2,71],[84.0,75],[69.7,80],[72.1,70],[74.5,71],[77.5,79],[80.5,70],[83.5,79],
[68.5,62],[68.9,66],[69.5,69],[70.1,63],[70.7,67],[71.3,61],[71.9,65],[72.5,68],[73.1,62],[73.7,66],[74.3,60],[74.9,64],[75.5,68],[76.1,61],[76.7,65],[77.3,69],[77.9,63],[78.5,67],[79.1,60],[79.7,64],[80.3,68],[80.9,62],[81.5,66],[82.1,70],[82.7,63],[83.4,67],[84.1,61],[69.8,60],[72.2,70],[75.2,63],[78.2,70],[81.2,60],
[68.9,52],[69.1,56],[69.7,59],[70.3,53],[70.9,57],[71.5,51],[72.1,55],[72.7,58],[73.3,52],[73.9,56],[74.5,50],[75.1,54],[75.7,58],[76.3,51],[76.9,55],[77.5,59],[78.1,53],[78.7,57],[79.3,50],[79.9,54],[80.5,58],[81.1,52],[81.8,56],[82.6,51],[83.5,55],[84.3,59],[70.0,50],[73.0,60],[76.0,60],[79.0,60],
[69.3,42],[69.6,46],[70.2,49],[70.8,43],[71.4,47],[72.0,41],[72.6,45],[73.2,48],[73.8,42],[74.4,46],[75.0,40],[75.6,44],[76.2,48],[76.8,41],[77.4,45],[78.0,49],[78.6,43],[79.3,47],[80.0,41],[80.8,45],[81.7,49],[82.6,43],[83.8,47],[71.0,40],[74.1,50],[77.7,40],
[69.7,32],[69.9,36],[70.5,39],[71.2,33],[71.8,37],[72.5,31],[73.1,35],[73.8,38],[74.4,32],[75.1,36],[75.8,30],[76.5,34],[77.2,38],[77.9,31],[78.7,35],[79.5,39],[80.4,33],[81.3,37],[82.4,31],[83.6,36],[84.9,33],[76.0,39],
[70.1,22],[70.6,26],[71.4,29],[72.2,23],[73.0,27],[73.9,21],[74.8,25],[75.7,28],[76.6,22],[77.5,26],[78.5,29],[79.6,23],[80.8,27],[82.0,24],[83.5,28],[85.0,25],
[70.6,13],[71.6,17],[72.9,12],[74.1,15],[75.4,13],[76.6,18],[77.8,14],[79.5,19],[81.2,16],[83.0,20],
[69.4,88],[70.2,95],[70.8,77],[71.6,84],[72.0,91],[72.9,73],[73.4,97],[74.1,79],[74.7,86],[75.2,93],[75.9,70],[76.4,77],[77.0,88],[77.6,95],[78.2,74],[78.9,81],[79.4,92],[70.4,58],[71.1,64],[71.9,71],[72.6,53],[73.2,62],[73.9,69],[74.6,56],[75.3,45],[75.8,66],[76.5,58],[77.1,50],[77.9,62],[78.4,55],[79.1,67],[79.8,46],[70.9,47],[71.8,55],[72.4,43],[73.6,51],[74.3,38],[75.0,59],[76.1,42],[76.8,63],[77.4,36],[78.3,47],[69.6,70],[70.5,85],[71.3,93],[72.8,81],[73.1,107],[74.9,103],[76.2,98],[77.7,104],[79.0,96],[80.6,89],[81.5,100],[82.2,79],[80.0,74],[81.0,57],[82.3,66],[83.1,93],[83.9,84],[83.0,60],
[70.3,96],[72.8,88],[71.4,79],[74.6,93],[73.1,71],[76.2,85],[75.0,99],[77.9,77],[76.8,91],[79.3,83],[78.4,97],[80.7,75],[69.5,84],[71.9,68],[73.8,81],[72.2,102],[75.5,66],[74.2,59],[77.0,63],[76.1,72],[78.8,68],[80.1,89],[81.6,94],[79.7,101],[82.8,85],[70.8,62],[72.5,55],[71.2,48],[74.0,52],[73.3,44],[75.8,49],[77.4,54],[76.6,45],[78.9,58],[80.4,51],[79.6,42],[82.1,47],[81.2,63],[83.4,72],[69.4,74],[70.6,89],[71.7,99],[73.6,92],[75.3,83],[74.8,105],[77.2,97],[78.6,86],[80.6,98],[82.4,93],[81.8,78],[83.7,66],[84.5,57],[69.9,55],[70.9,41],[72.7,37],[74.5,42],[76.3,38],[78.1,35],[79.9,31],[81.5,39],[83.1,44],[84.8,41],[70.4,30],[72.0,26],[73.9,33],[75.9,27],[77.6,29],[79.1,25],[81.0,32],[82.9,35],[85.2,29],[71.3,21],[73.4,24],[75.1,19],[77.1,22],[79.8,27],[82.2,21],[84.0,26],
[69.0,78],[70.1,71],[71.0,86],[72.3,93],[73.0,64],[74.1,76],[75.2,90],[76.0,57],[77.3,69],[78.2,80],[79.0,94],[80.3,62],[81.3,71],[82.5,58],[83.0,81],[69.7,66],[70.7,104],[72.6,74],[73.7,98],[74.9,68],[76.5,95],[77.8,102],[79.4,72],[80.9,82],[82.0,102],[83.2,96],[71.6,59],[72.9,50],[74.3,46],[75.6,56],[76.9,50],[78.3,46],[79.5,53],[80.8,44],[82.6,54],[84.2,49],[70.5,51],[71.8,44],[73.5,39],[75.4,35],[77.0,33],[78.7,40],[80.2,37],[81.9,29],[83.6,31],[85.5,37],
[69.8,99],[71.1,92],[72.4,81],[73.2,86],[74.4,72],[75.7,78],[76.7,66],[77.7,88],[78.5,92],[79.2,79],[80.5,85],[81.4,90],[82.3,74],[83.3,61],[69.3,88],[70.2,80],[71.5,73],[72.1,64],[73.8,57],[74.7,63],[75.9,73],[76.4,81],[77.5,60],[78.0,71],[79.6,65],[80.0,56],[81.1,67],[82.7,64],[84.3,70],[69.6,62],[70.8,57],[72.2,46],[73.6,49],[74.8,38],[76.0,41],[77.9,43],[79.2,48],[80.6,40],[82.4,42],[83.9,53],[71.6,35],[73.1,29],[74.6,31],[76.4,35],[78.4,30],[80.7,34],[82.0,37],[83.8,39],[70.7,38],[72.6,33],
[71.9,106],[73.5,104],[75.1,108],[76.6,104],[78.1,109],[79.8,106],[81.2,104],[82.6,99],[77.6,112],[79.0,114],[80.5,111],[81.9,116],[76.3,117],[74.9,114],[73.2,112],[78.3,120],[80.8,123],[79.6,130],[78.9,126],[77.3,124],
[72.3,16],[74.8,14],[76.9,16],[78.6,18],[80.3,21],[82.5,17],[84.6,22],[73.6,19],[71.1,15],[75.9,23],
[69.2,93],[70.4,87],[71.5,95],[72.0,77],[72.9,97],[73.4,68],[74.3,84],[75.4,96],[76.2,63],[76.9,87],[77.8,73],[78.6,99],[79.4,61],[70.0,64],[70.9,74],[71.8,83],[72.7,60],[73.6,76],[74.5,88],[75.3,61],[76.1,92],[77.1,80],[78.0,65],[78.9,74],[79.8,88],[69.7,51],[70.6,46],[71.4,54],[72.3,42],[73.2,58],[74.1,49],[75.0,44],[75.9,53],[76.8,47],[77.7,56],[78.6,51],[79.5,44],[70.2,43],[71.3,61],[72.5,67],[73.9,62],[74.6,55],[75.7,62],[76.5,69],[77.4,74],[78.3,62],[79.2,56],[80.1,66],[69.1,70],[70.5,77],[71.7,88],[72.8,91],[73.7,83],[74.2,97],[75.6,88],[76.7,99],[77.5,93],[78.4,83],[79.1,90],[80.0,95],[71.0,97],[72.2,85],[73.3,78],[74.7,80],[75.8,68],[76.3,76],[77.2,86],[78.8,77],[79.7,84],[80.4,79],[69.5,58],[70.7,53],[71.9,49],[72.6,45],[73.5,54],[74.4,65],[75.2,51],[76.6,52],[77.6,47],[78.2,55],[79.9,59],[80.8,53],[81.3,49],[70.3,67],[71.2,72],[72.4,70],[73.1,80],[74.0,87],[74.9,75],[75.5,79],[76.4,87],[77.3,66],[78.1,91],[79.0,67],[80.2,73],[81.0,86],[81.7,82],[69.9,90],[71.6,102],[73.0,100],[74.3,102],[75.9,101],[77.4,101],[78.7,104],[80.3,103],
[70.6,92],[73.8,74],[71.9,58],[76.3,96],[74.5,68],[72.1,81],[78.2,88],[75.7,52],[77.1,71],[79.6,97],[73.2,45],[70.9,69],[76.0,84],[80.2,59],[74.7,90],[72.6,99],[78.9,64],[71.3,87],[75.1,75],[77.8,49],[73.5,93],[79.3,76],[70.1,54],[76.7,60],[74.2,80],[72.9,66],[78.5,95],[71.7,76],[75.9,89],[77.5,83],[80.6,67],[73.0,56],[76.4,45],[74.9,97],[72.3,73],[79.0,52],[70.7,82],[75.4,69],[77.9,92],[73.7,86],[71.1,64],[78.1,78],[74.1,58],[76.8,75],[72.7,89],[80.1,81],[75.6,99],[73.3,62],[77.2,57],[71.5,97],[79.8,70],[74.4,73],[76.2,67],[72.0,51],[78.7,85],[70.4,74],[75.2,86],[73.9,48],[77.6,66],[71.8,93],[76.9,78],[74.8,62],[79.4,90],[72.5,84],[75.8,94],[73.1,76],[78.3,72],[70.2,61],[76.5,88],[74.6,54],[71.4,80],[77.3,95],[73.6,68],[79.9,63],[75.0,79],[72.2,95],[78.0,58],[70.8,97],[76.1,55],[74.0,91],[77.0,77],[73.4,83],[71.0,72],[75.3,64],[79.1,79],[72.8,59],[76.6,91],[74.3,66],[78.6,69],[71.6,90],[75.5,72],[73.9,98],[77.4,89],[70.5,65],[76.3,81],[72.4,77],[79.5,86],[74.9,85],[78.4,93],[71.2,59],[75.7,58],[73.2,96],[77.7,79],[80.5,92],[76.8,64],[72.9,86],[74.5,77],[70.3,80],[78.8,60],[75.1,92],[81.2,77],[82.0,88],[80.9,94],[81.8,68],[82.6,80],[83.1,75],[81.5,55],[82.9,49],[80.7,46],[83.6,58],[84.4,65],[81.0,104],[82.4,107],[76.0,110],[77.9,115],[79.4,118],[74.3,108],[75.7,112],[80.2,115],[78.8,122],[77.4,129],[80.0,126],[76.1,124],[81.3,112],[82.2,121],[73.6,114],[79.3,110],
[71.7,66],[74.9,49],[77.3,82],[79.8,94],[72.8,107],[75.6,40],[73.4,90],[78.1,61],[80.9,73],[70.5,98],[76.4,30],[74.1,63],[81.7,58],[72.2,89],[77.9,106],[75.3,71],[79.2,39],[73.0,83],[76.8,53],[71.3,45],[78.5,100],[80.4,85],[74.6,96],[72.5,62],[77.0,44],[75.9,87],[79.6,68],[73.7,55],[82.1,91],[71.0,77],[76.2,103],[78.9,47],[74.3,41],[80.0,65],[72.9,70],[77.6,91],[75.0,61],[79.0,99],[73.3,66],[81.1,97],[70.8,85],[76.7,73],[78.3,81],[74.0,94],[71.5,56],[77.8,54],[75.5,84],[80.6,50],[72.3,99],[79.4,107],[73.9,72],[76.5,61],[82.8,70],[71.9,38],[78.0,96],[74.7,57],[80.3,77],[75.8,76],[72.7,52],[77.1,63],[79.7,80],[73.5,101],[76.0,93],[81.4,86],[70.9,59],[78.7,70],[74.4,89],[75.2,34],[77.5,42],[79.9,51],[72.0,72],[80.8,60],[73.8,44],[76.3,99],[78.2,112],[75.4,118],[77.2,114],[79.1,121],[80.6,118],[74.6,116],[76.9,108],[81.6,108],[78.6,127],[80.3,130],[77.8,133],[79.7,135],[81.2,133],[76.7,131],[75.4,125],[73.9,120]
];

// ---------- yearly comfort timeline (day of year, hour from, hour to) ----------
const months = ['Jan','Feb','Mar','Apr','May','Jun','Jul','Aug','Sep','Oct','Nov','Dec'];
const monthStarts = [0,31,59,90,120,151,181,212,243,273,304,334,365];
const comfortDay = [
18,31,46,47,49,50,52,54,55,57,58,60,61,63,64,66,67,69,70,72,
83,84,85,86,87,88,89,90,91,
92,93,94,95,96,97,98,99,100,101,102,103,104,105,106,107,108,109,110,111,
112,113,114,115,116,117,118,119,120,121,122,123,124,125,126,127,128,129,130,131,
132,133,134,135,136,137,138,139,140,141,142,143,144,145,146,147,148,149,
150,151,152,153,154,155,156,157,158,159,160,161,162,163,164,165,166,167,168,169,
170,171,172,173,174,175,176,177,178,179,180,181,182,183,184,185,186,187,188,189,
190,191,192,193,194,195,196,197,198,199,200,201,202,203,204,205,206,207,208,209,
210,211,212,213,214,215,216,217,218,219,220,221,222,223,224,225,226,227,228,229,
230,231,232,233,234,
156,179,180,182,206,207,210,214,218,220,222,229,231,
235,236,237,238,239,240,241,242,243,244,245,246,247,248,249,250,251,252,253,254,
255,256,257,258,259,260,261,262,263,264,265,266,267,268,269,270,271,272,273,274,
275,276,277,278,279,280,281,282,283,284,285,286,287,288,289,290,291,292,293,294,
295,296,297,298,299,300,
302,303,305,306,308,309,311,313,315,316,318,320,322,324,326,329,341,342,343,345,346
];
const comfortFrom = [
15,12,13,15,12,14,13,12,15,11,10,12,13,10,14,9,11,12,10,13,
13,11,9,8,10,12,8,9,8,
7,9,7,8,7,9,7,8,10,7,8,7,9,7,8,7,10,7,8,7,
7,9,7,8,7,7,8,7,7,8,7,7,7,7,8,7,7,7,7,8,
7,7,7,7,7,7,7,7,7,7,7,7,7,7,7,7,7,7,
7,7,7,7,7,7,7,7,7,7,7,7,7,7,7,7,7,7,7,7,
7,7,7,7,7,7,7,7,7,7,7,7,7,7,7,7,7,7,7,7,
7,7,7,7,7,7,7,7,7,7,7,7,7,7,7,7,7,7,7,7,
7,7,7,7,7,7,7,7,7,7,7,7,7,7,7,7,7,7,7,7,
7,7,7,7,7,
15,14,15,16,15,16,16,13,16,16,16,12,13,
7,7,7,7,7,7,7,7,8,7,7,7,9,7,7,8,7,7,7,10,
7,8,7,7,9,7,7,8,7,7,11,7,8,7,7,7,8,7,9,7,
8,7,7,9,7,8,7,10,7,8,9,7,10,8,11,9,12,10,11,13,
10,12,11,14,12,10,
13,12,14,11,13,15,12,14,11,13,10,14,12,15,13,14,11,10,12,9,13
];
const comfortTo = [
16,17,17,17,17,17,17,17,17,17,17,17,17,17,17,17,17,17,17,17,
17,17,17,17,17,17,17,17,17,
17,17,15,17,16,17,17,14,17,17,16,17,17,15,16,17,17,13,17,17,
17,16,17,17,14,17,17,16,17,17,15,17,14,17,17,16,15,17,13,17,
16,17,13,17,15,17,12,16,17,11,14,17,10,12,17,11,13,10,
11,9,10,12,9,10,9,10,11,9,10,9,12,9,10,9,10,11,9,10,
9,10,12,9,10,9,10,11,9,10,9,10,9,10,11,9,10,9,10,12,
9,10,9,10,11,9,10,9,10,12,9,10,9,11,10,9,10,9,10,12,
9,10,9,11,10,9,10,12,9,10,11,9,10,12,10,11,9,13,10,11,
14,10,12,11,15,
17,17,17,17,17,17,17,15,17,17,17,15,16,
17,13,16,12,17,11,15,17,17,17,14,17,17,17,16,17,17,13,17,17,
17,17,15,17,17,17,17,16,17,17,17,17,17,17,14,17,17,17,17,17,
17,17,16,17,17,17,17,17,17,17,17,17,17,17,17,17,17,17,17,17,
17,17,17,17,17,17,
17,17,17,17,17,17,17,17,17,17,17,17,17,17,17,17,17,17,17,17,16
];

// ---------- psychrometric relations (IP units) ----------
const P_ATM = 14.5;
const T_MIN = -5, T_MAX = 116;
function satPressure(t){
  const T = t + 459.67;
  if (t < 32) {
    return Math.exp(-1.0214165e4/T - 4.8932428 - 5.3765794e-3*T + 1.9202377e-7*T*T
      + 3.5575832e-10*T*T*T - 9.0344688e-14*T*T*T*T + 4.1635019*Math.log(T));
  }
  return Math.exp(-1.0440397e4/T - 11.29465 - 2.7022355e-2*T + 1.289036e-5*T*T
    - 2.4780681e-9*T*T*T + 6.5459673*Math.log(T));
}
function grainsAt(t, rh){ const p = rh*satPressure(t); return 7000*0.622*p/(P_ATM - p); }
function wetBulbGrains(t, twb){
  const ws = grainsAt(twb, 1)/7000;
  const w = twb >= 32
    ? ((1093 - 0.556*twb)*ws - 0.24*(t - twb))/(1093 + 0.444*t - twb)
    : ((1220 - 0.04*twb)*ws - 0.24*(t - twb))/(1220 + 0.444*t - 0.48*twb);
  return 7000*w;
}
function solve(f, target, lo, hi){
  const sLo = Math.sign(f(lo) - target);
  for (let i = 0; i < 60; i++) {
    const m = (lo + hi)/2;
    if (Math.sign(f(m) - target) === sLo) lo = m; else hi = m;
  }
  return (lo + hi)/2;
}
function joinSegments(segs){
  const out = [];
  segs.forEach((s, i) => { if (i) out.push({x: s[0].x, y: null}); out.push(...s); });
  return out;
}

// saturation curve + relative humidity curves
const tTop = solve(t => grainsAt(t, 1), TOP_GRAINS, 40, 100);
const satSeg = [];
for (let t = T_MIN; t < tTop; t += 0.5) satSeg.push({x: t, y: grainsAt(t, 1)});
satSeg.push({x: tTop, y: TOP_GRAINS});
const rhSegs = rhLines.map(rh => {
  const tEnd = Math.min(solve(t => grainsAt(t, rh/100), TOP_GRAINS, T_MIN, 200), T_MAX);
  const seg = [];
  for (let t = T_MIN; t < tEnd; t += 0.5) seg.push({x: t, y: grainsAt(t, rh/100)});
  seg.push({x: tEnd, y: grainsAt(tEnd, rh/100)});
  return seg;
});
const curveData = joinSegments([satSeg, ...rhSegs]);

// dry bulb verticals, humidity horizontals, top border
const straightSegs = [];
dryBulbLines.forEach(t => straightSegs.push([{x: t, y: -2}, {x: t, y: Math.min(grainsAt(t, 1), TOP_GRAINS)}]));
humidityLines.forEach(g => {
  const t0 = g === 0 ? T_MIN : solve(t => grainsAt(t, 1), g, -40, 100);
  straightSegs.push([{x: t0, y: g}, {x: T_MAX, y: g}]);
});
straightSegs.push([{x: tTop, y: TOP_GRAINS}, {x: T_MAX, y: TOP_GRAINS}]);
const straightData = joinSegments(straightSegs);

// wet bulb lines
const wbSegs = wetBulbLines.map(twb => {
  let t0 = twb, g0 = grainsAt(twb, 1);
  if (g0 > TOP_GRAINS) { t0 = solve(t => wetBulbGrains(t, twb), TOP_GRAINS, twb, 150); g0 = TOP_GRAINS; }
  const tEnd = Math.min(solve(t => wetBulbGrains(t, twb), 0, twb, 250), T_MAX);
  const seg = [{x: t0, y: g0}];
  for (let t = Math.ceil(t0); t < tEnd; t += 1) seg.push({x: t, y: wetBulbGrains(t, twb)});
  seg.push({x: tEnd, y: wetBulbGrains(tEnd, twb)});
  return seg;
});
const wbData = joinSegments(wbSegs);

const toXY = arr => arr.map(p => ({x: p[0], y: p[1]}));

const psyLabels = {
  id: 'psyLabels',
  afterDatasetsDraw(chart){
    const {ctx, scales: {x, y}} = chart;
    ctx.save();
    ctx.fillStyle = '#3c3c3c';
    ctx.font = '6.5px "Open Sans"';
    ctx.textAlign = 'right';
    ctx.textBaseline = 'alphabetic';
    wetBulbLabels.forEach(t => {
      ctx.fillText(t + ' F', x.getPixelForValue(t) - 4, y.getPixelForValue(grainsAt(t, 1)) - 0.5);
    });
    const t90 = solve(t => wetBulbGrains(t, 90), TOP_GRAINS, 90, 150);
    ctx.fillText('90', x.getPixelForValue(t90) - 1, y.getPixelForValue(TOP_GRAINS) + 1.5);
    ctx.font = '7px "Open Sans"';
    ctx.textAlign = 'center';
    ctx.textBaseline = 'middle';
    rhTopLabels.forEach(rh => {
      const t = solve(tt => grainsAt(tt, rh/100), 203.5, 40, 140);
      ctx.fillText(rh + '%', x.getPixelForValue(t), y.getPixelForValue(203.5));
    });
    ctx.textAlign = 'left';
    rhSideLabels.forEach(rh => {
      const tx = rh === 10 ? 110.9 : 111.7;
      ctx.fillText(rh + '%', x.getPixelForValue(tx), y.getPixelForValue(grainsAt(113, rh/100)));
    });
    ctx.restore();
  }
};

const lineBase = {type: 'line', showLine: true, pointRadius: 0, tension: 0, spanGaps: false, fill: false};

new Chart(document.getElementById('psy'), {
  type: 'scatter',
  data: {
    datasets: [
      Object.assign({}, lineBase, {data: straightData, borderColor: '#a8a8a8', borderWidth: 1, order: 5}),
      Object.assign({}, lineBase, {data: wbData, borderColor: '#8e8e8e', borderWidth: 0.8, order: 4}),
      Object.assign({}, lineBase, {data: curveData, borderColor: '#8e8e8e', borderWidth: 0.8, order: 4}),
      {data: toXY(outsideHours), backgroundColor: '#474747', pointRadius: 1.3, pointBorderWidth: 0, order: 3},
      {data: toXY(comfortHours), backgroundColor: '#3b8df3', pointRadius: 1.35, pointBorderWidth: 0, order: 2},
      Object.assign({}, lineBase, {data: toXY(comfortZoneWide), borderColor: '#000', borderWidth: 2.6, borderJoinStyle: 'miter', order: 1}),
      Object.assign({}, lineBase, {data: toXY(comfortZoneNarrow), borderColor: '#000', borderWidth: 2.6, borderJoinStyle: 'miter', order: 0})
    ]
  },
  options: {
    responsive: false, animation: false, devicePixelRatio: 1, events: [],
    layout: {padding: 0},
    plugins: {legend: {display: false}, tooltip: {enabled: false}},
    scales: {
      x: {type: 'linear', min: -6.548, max: 112.82, display: false},
      y: {type: 'linear', min: -0.485, max: 213.9, display: false}
    }
  },
  plugins: [psyLabels]
});

// ---------- yearly timeline ----------
const monthMids = months.map((m, i) => (monthStarts[i] + monthStarts[i + 1])/2);
const yearTicks = monthStarts.concat(monthMids).sort((a, b) => a - b);

new Chart(document.getElementById('year'), {
  type: 'bar',
  data: {
    datasets: [{
      data: comfortDay.map((d, i) => ({x: d + 0.5, y: [comfortFrom[i], comfortTo[i]]})),
      backgroundColor: '#1e1e1e', borderWidth: 0, barThickness: 0.9, grouped: false
    }]
  },
  options: {
    responsive: false, animation: false, devicePixelRatio: 1, events: [],
    layout: {padding: {left: 13, top: 5, right: 13, bottom: 0}},
    plugins: {legend: {display: false}, tooltip: {enabled: false}},
    scales: {
      x: {
        type: 'linear', min: 0, max: 365, offset: false,
        afterBuildTicks: s => { s.ticks = yearTicks.map(v => ({value: v})); },
        afterFit: s => { s.height = 21; },
        grid: {color: c => (c.tick && monthStarts.includes(c.tick.value)) ? '#a0a0a0' : 'rgba(0,0,0,0)', drawTicks: false, lineWidth: 1},
        border: {display: true, color: '#a0a0a0'},
        ticks: {
          autoSkip: false, maxRotation: 0, padding: 6, color: '#444',
          font: {family: 'Open Sans', size: 7.5},
          callback: v => { const i = monthMids.indexOf(v); return i >= 0 ? months[i] : ''; }
        }
      },
      y: {
        type: 'linear', min: 0, max: 24,
        afterBuildTicks: s => { s.ticks = [0, 6, 12, 18, 24].map(v => ({value: v})); },
        afterFit: s => { s.width = 0; },
        grid: {color: '#a0a0a0', drawTicks: false},
        border: {display: true, color: '#a0a0a0'},
        ticks: {display: false}
      }
    }
  }
});
</script>
</body>
</html>
